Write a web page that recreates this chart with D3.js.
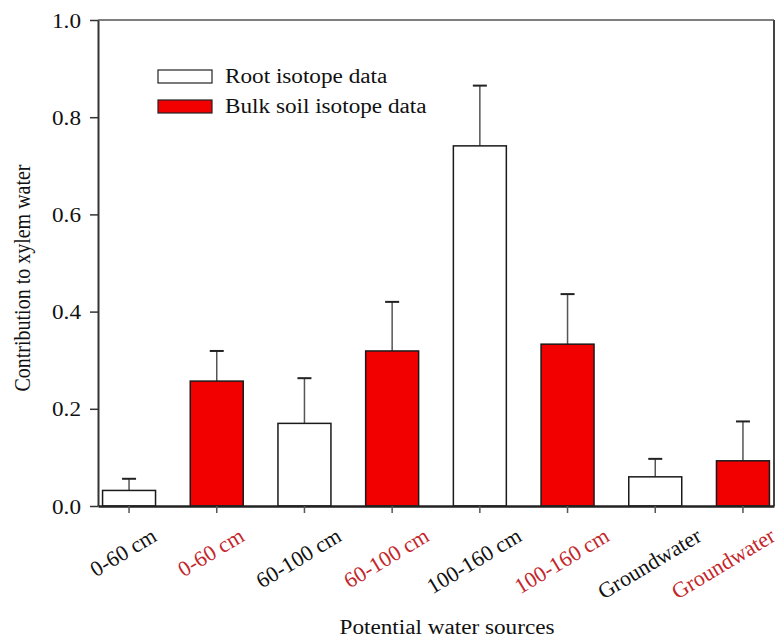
<!DOCTYPE html>
<html>
<head>
<meta charset="utf-8">
<script src="https://cdn.jsdelivr.net/npm/d3@7"></script>
<style>
  body { margin: 0; background: #fff; }
  svg text { font-family: "Liberation Serif", "Times New Roman", serif; }
</style>
</head>
<body>
<div id="chart"></div>
<script>
// Chart data
const categories = ["0-60 cm", "0-60 cm", "60-100 cm", "60-100 cm",
                    "100-160 cm", "100-160 cm", "Groundwater", "Groundwater"];
const seriesOf = ["root", "bulk", "root", "bulk", "root", "bulk", "root", "bulk"];
const values = [0.032, 0.257, 0.170, 0.319, 0.741, 0.333, 0.060, 0.093];
const errors = [0.024, 0.062, 0.093, 0.101, 0.124, 0.103, 0.037, 0.081];
const yTicks = [0.0, 0.2, 0.4, 0.6, 0.8, 1.0];
const legendLabels = ["Root isotope data", "Bulk soil isotope data"];

const width = 782;
const height = 640;
const plotLeft = 98, plotRight = 774, plotTop = 20, plotBottom = 506;
const stretch = 1.16; // the figure text is a little wide
const angle = 31;

const fillOf = {root: "#ffffff", bulk: "#f20000"};
const labelColor = {root: "#111111", bulk: "#c4262b"};

const svg = d3.select("#chart")
    .append("svg")
        .attr("width", width)
        .attr("height", height);

const x = d3.scaleBand()
    .domain(d3.range(categories.length))
    .range([plotLeft, plotRight])
    .paddingInner(0.396)
    .paddingOuter(0.052);

const y = d3.scaleLinear()
    .domain([0, 1])
    .range([plotBottom, plotTop]);

// frame lines top and right
svg.append("line")
    .attr("x1", plotLeft).attr("x2", plotRight)
    .attr("y1", plotTop).attr("y2", plotTop)
    .attr("stroke", "#555").attr("stroke-width", 1.5);
svg.append("line")
    .attr("x1", plotRight).attr("x2", plotRight)
    .attr("y1", plotTop).attr("y2", plotBottom)
    .attr("stroke", "#444").attr("stroke-width", 2);

// error bars (upper only)
const err = svg.append("g")
    .selectAll("g")
    .data(values)
    .join("g");
err.append("line")
    .attr("x1", (d, i) => x(i) + x.bandwidth() / 2)
    .attr("x2", (d, i) => x(i) + x.bandwidth() / 2)
    .attr("y1", d => y(d))
    .attr("y2", (d, i) => y(d + errors[i]))
    .attr("stroke", "#555")
    .attr("stroke-width", 1.5);
err.append("line")
    .attr("x1", (d, i) => x(i) + x.bandwidth() / 2 - 7)
    .attr("x2", (d, i) => x(i) + x.bandwidth() / 2 + 7)
    .attr("y1", (d, i) => y(d + errors[i]))
    .attr("y2", (d, i) => y(d + errors[i]))
    .attr("stroke", "#222")
    .attr("stroke-width", 2);

// bars
svg.append("g")
    .selectAll("rect")
    .data(values)
    .join("rect")
        .attr("x", (d, i) => x(i))
        .attr("y", d => y(d))
        .attr("width", x.bandwidth())
        .attr("height", d => y(0) - y(d))
        .attr("fill", (d, i) => fillOf[seriesOf[i]])
        .attr("stroke", "#1a1a1a")
        .attr("stroke-width", 1.5);

// y axis
const yAxis = svg.append("g")
    .attr("transform", `translate(${plotLeft},0)`)
    .call(d3.axisLeft(y).tickValues(yTicks).tickFormat(d3.format(".1f")).tickSize(8).tickSizeOuter(0));
yAxis.select(".domain").attr("stroke", "#333").attr("stroke-width", 2);
yAxis.selectAll(".tick line").attr("stroke", "#333").attr("stroke-width", 1.5);
yAxis.selectAll(".tick text").remove();
yAxis.selectAll(".tick")
    .append("text")
        .attr("transform", `translate(-17,0) scale(${stretch},1)`)
        .attr("text-anchor", "end")
        .attr("dy", "0.35em")
        .attr("fill", "#111")
        .style("font-size", "20px")
        .text(d => d3.format(".1f")(d));

// x axis
const xAxis = svg.append("g")
    .attr("transform", `translate(0,${plotBottom})`)
    .call(d3.axisBottom(x).tickSize(7).tickSizeOuter(0).tickFormat(""));
xAxis.select(".domain").attr("stroke", "#222").attr("stroke-width", 2.5);
xAxis.selectAll(".tick line").attr("stroke", "#555").attr("stroke-width", 1.5);

// rotated category labels, the top of each label sits at the same height
const labels = svg.append("g")
    .selectAll("g")
    .data(categories)
    .join("g");
labels.append("text")
    .attr("text-anchor", "middle")
    .attr("dy", "0.35em")
    .attr("fill", (d, i) => labelColor[seriesOf[i]])
    .style("font-size", "22px")
    .attr("transform", `rotate(${-angle})`)
    .text(d => d);
labels.attr("transform", function(d, i) {
    const cx = x(i) + x.bandwidth() / 2 - 6;
    const w = this.querySelector("text").getComputedTextLength();
    const rad = angle * Math.PI / 180;
    const hImg = w * Math.sin(rad) + 15 * Math.cos(rad);
    return `translate(${cx},${527 + hImg / 2})`;
});
// keep the last label inside the picture
labels.each(function(d, i) {
    const r = this.getBoundingClientRect();
    if (r.right > width - 2) {
        const cx = x(i) + x.bandwidth() / 2 - 6 - (r.right - (width - 2));
        const t = this.getAttribute("transform").replace(/translate\(([^,]+),/, `translate(${cx},`);
        this.setAttribute("transform", t);
    }
});

// axis titles
svg.append("text")
    .attr("transform", `translate(447,634) scale(${stretch},1)`)
    .attr("text-anchor", "middle")
    .attr("fill", "#111")
    .style("font-size", "20px")
    .text("Potential water sources");

svg.append("text")
    .attr("transform", `translate(30,278) scale(${stretch},1) rotate(-90)`)
    .attr("text-anchor", "middle")
    .attr("fill", "#111")
    .style("font-size", "20px")
    .text("Contribution to xylem water");

// legend
const legend = svg.append("g")
    .selectAll("g")
    .data(legendLabels)
    .join("g")
        .attr("transform", (d, i) => `translate(158,${70 + i * 30})`);
legend.append("rect")
    .attr("width", 54)
    .attr("height", 13)
    .attr("fill", (d, i) => i === 0 ? fillOf.root : fillOf.bulk)
    .attr("stroke", "#222")
    .attr("stroke-width", 1.2);
legend.append("text")
    .attr("transform", `translate(67,13) scale(${stretch},1)`)
    .attr("fill", "#111")
    .style("font-size", "20px")
    .text(d => d);
</script>
</body>
</html>
